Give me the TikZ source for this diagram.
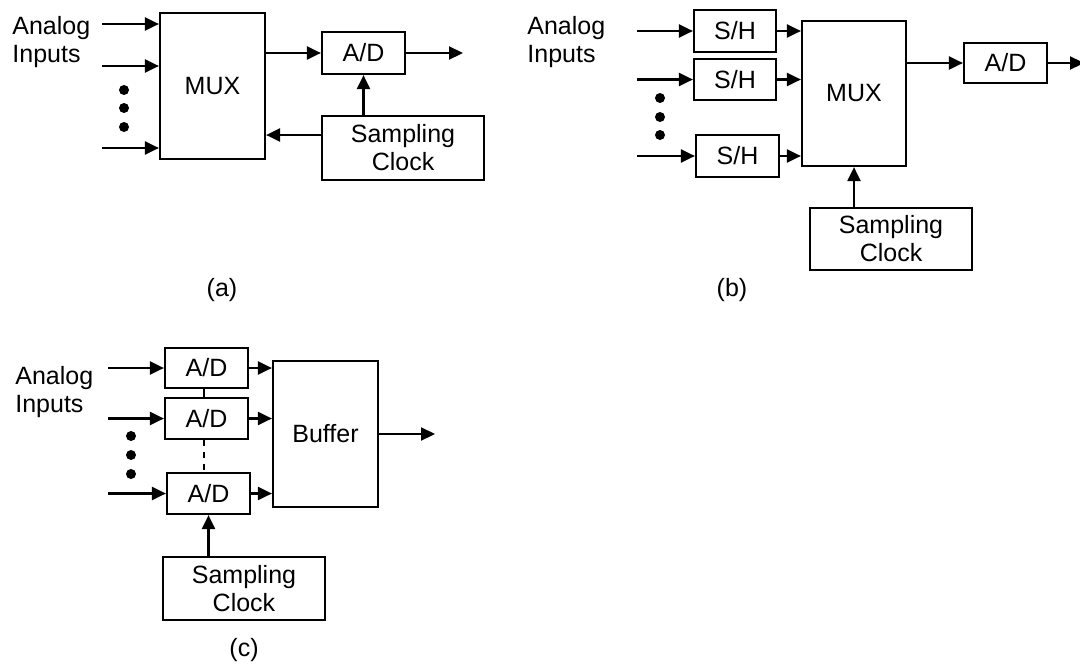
\documentclass[tikz,border=0pt]{standalone}
\usepackage{fontspec}
\setmainfont{Liberation Sans}
\usetikzlibrary{arrows.meta}
\tikzset{
  box/.style={draw, line width=1.1pt, inner sep=0pt, align=center},
  arr/.style={line width=1.1pt, -{Triangle[length=7pt,width=6.5pt]}},
  ln/.style={line width=1.1pt},
  lbl/.style={inner sep=0pt, align=left, anchor=west},
  dotc/.style={circle, fill, inner sep=0pt, minimum size=5pt},
}
\begin{document}
\begin{tikzpicture}[x=0.5pt, y=-0.5pt, font=\fontsize{12.5}{14}\selectfont]
\useasboundingbox (0,0) rectangle (1080,664);

% ---------------- (a) ----------------
\node[lbl] (txa) at (12,42) {Analog\\Inputs};
\node[box, minimum width=52.5pt, minimum height=73pt] (muxa) at (212.5,86) {MUX};
\node[box, minimum width=41.5pt, minimum height=21pt] (ada) at (363.5,53) {A/D};
\node[box, minimum width=81pt, minimum height=32pt] (clka) at (403,148) {Sampling\\Clock};
\coordinate (ia1) at (102,24);
\coordinate (ia2) at (102,66);
\coordinate (ia3) at (102,148);
\coordinate (oa) at (463,53);
\draw[arr] (ia1) -- (ia1 -| muxa.west);
\draw[arr] (ia2) -- (ia2 -| muxa.west);
\draw[arr] (ia3) -- (ia3 -| muxa.west);
\draw[arr] (ada.west -| muxa.east) -- (ada.west);
\draw[arr] (ada.east) -- (oa);
\draw[arr] (clka.north -| ada.south) -- (ada.south);
\draw[arr] ([yshift=6.5pt]clka.west) -- ([yshift=6.5pt]clka.west -| muxa.east);
\node[dotc] (da1) at (124,90) {};
\node[dotc] (da2) at (124,108) {};
\node[dotc] (da3) at (124,127) {};
\node (capa) at (222,290) {(a)};

% ---------------- (b) ----------------
\node[lbl] (txb) at (527,42) {Analog\\Inputs};
\node[box, minimum width=41pt, minimum height=21pt] (sh1) at (735,31) {S/H};
\node[box, minimum width=41pt, minimum height=20.5pt] (sh2) at (735,79.5) {S/H};
\node[box, minimum width=41.5pt, minimum height=21pt] (sh3) at (737.5,156) {S/H};
\node[box, minimum width=52pt, minimum height=72.5pt] (muxb) at (854,93.5) {MUX};
\node[box, minimum width=41.5pt, minimum height=20pt] (adb) at (1005.5,63) {A/D};
\node[box, minimum width=81pt, minimum height=31pt] (clkb) at (891,239) {Sampling\\Clock};
\coordinate (ib1) at (637,31);
\coordinate (ib2) at (637,79.5);
\coordinate (ib3) at (637,156);
\coordinate (ob) at (1084,63);
\draw[arr] (ib1) -- (sh1.west);
\draw[arr] (ib2) -- (sh2.west);
\draw[arr] (ib3) -- (sh3.west);
\draw[arr] (sh1.east) -- (sh1.east -| muxb.west);
\draw[arr] (sh2.east) -- (sh2.east -| muxb.west);
\draw[arr] (sh3.east) -- (sh3.east -| muxb.west);
\draw[arr] (adb.west -| muxb.east) -- (adb.west);
\draw[arr] (adb.east) -- (ob);
\draw[arr] (clkb.north -| muxb.south) -- (muxb.south);
\node[dotc] (db1) at (660,98) {};
\node[dotc] (db2) at (660,117) {};
\node[dotc] (db3) at (660,135) {};
\node (capb) at (732,290) {(b)};

% ---------------- (c) ----------------
\node[lbl] (txc) at (15,392) {Analog\\Inputs};
\node[box, minimum width=41.5pt, minimum height=20pt] (ad1) at (206.5,368) {A/D};
\node[box, minimum width=41.5pt, minimum height=20.5pt] (ad2) at (206.5,418.5) {A/D};
\node[box, minimum width=41.5pt, minimum height=20.5pt] (ad3) at (208.5,493.5) {A/D};
\node[box, minimum width=52.5pt, minimum height=73pt] (buf) at (325.5,434) {Buffer};
\node[box, minimum width=81pt, minimum height=31.5pt] (clkc) at (244,588.5) {Sampling\\Clock};
\coordinate (ic1) at (108,368);
\coordinate (ic2) at (108,418.5);
\coordinate (ic3) at (108,493.5);
\coordinate (oc) at (435,434);
\draw[arr] (ic1) -- (ad1.west);
\draw[arr] (ic2) -- (ad2.west);
\draw[arr] (ic3) -- (ad3.west);
\draw[arr] (ad1.east) -- (ad1.east -| buf.west);
\draw[arr] (ad2.east) -- (ad2.east -| buf.west);
\draw[arr] (ad3.east) -- (ad3.east -| buf.west);
\draw[arr] (buf.east) -- (oc);
\draw[ln] ([xshift=-1.2pt]ad1.south) -- ([xshift=-1.2pt]ad2.north);
\draw[ln, dashed] ([xshift=-1.2pt]ad2.south) -- ([xshift=-2.2pt]ad3.north);
\draw[arr] (clkc.north -| ad3.south) -- (ad3.south);
\node[dotc] (dc1) at (131,436) {};
\node[dotc] (dc2) at (131,455) {};
\node[dotc] (dc3) at (131,474) {};
\node (capc) at (244,650) {(c)};
\end{tikzpicture}
\end{document}
